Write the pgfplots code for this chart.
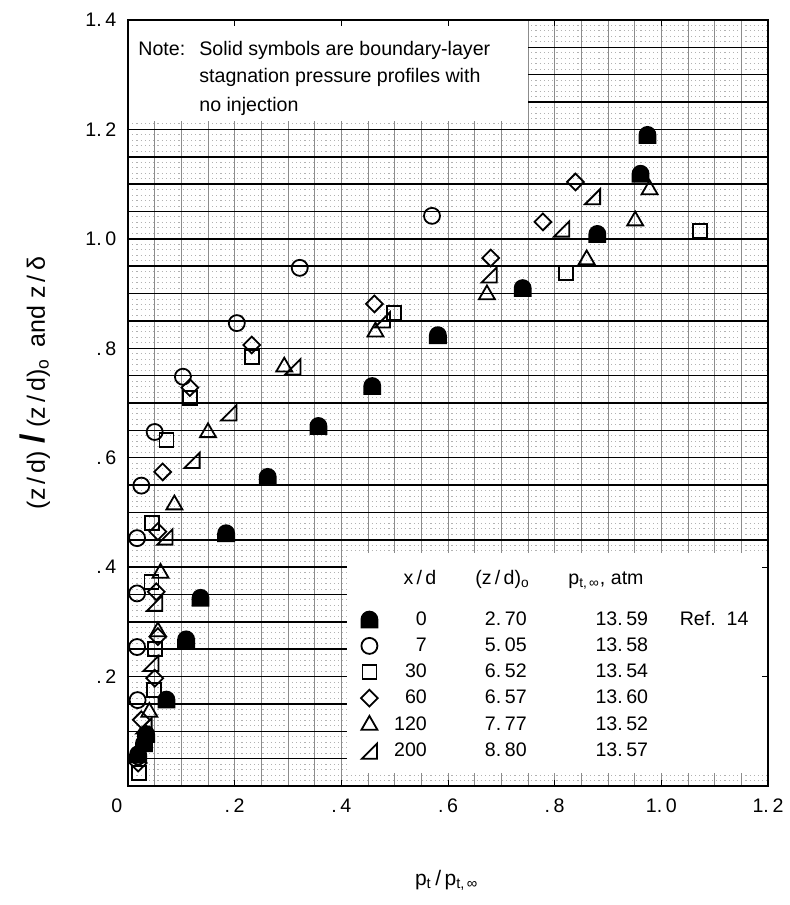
\documentclass[border=0pt]{standalone}
\usepackage{fontspec}
\setmainfont{Liberation Sans}
\usepackage{pgfplots}
\pgfplotsset{compat=1.18}

\pgfdeclareplotmark{tomb}{%
  \pgfpathmoveto{\pgfqpoint{-\pgfplotmarksize}{-\pgfplotmarksize}}%
  \pgfpathlineto{\pgfqpoint{-\pgfplotmarksize}{0pt}}%
  \pgfpatharc{180}{0}{\pgfplotmarksize}%
  \pgfpathlineto{\pgfqpoint{\pgfplotmarksize}{-\pgfplotmarksize}}%
  \pgfpathclose
  \pgfusepathqfillstroke}
\pgfdeclareplotmark{rtri}{%
  \pgfpathmoveto{\pgfqpoint{-\pgfplotmarksize}{-\pgfplotmarksize}}%
  \pgfpathlineto{\pgfqpoint{\pgfplotmarksize}{-\pgfplotmarksize}}%
  \pgfpathlineto{\pgfqpoint{\pgfplotmarksize}{\pgfplotmarksize}}%
  \pgfpathclose
  \pgfusepathqstroke}
\pgfdeclareplotmark{dia}{%
  \pgfpathmoveto{\pgfqpoint{0pt}{\pgfplotmarksize}}%
  \pgfpathlineto{\pgfqpoint{\pgfplotmarksize}{0pt}}%
  \pgfpathlineto{\pgfqpoint{0pt}{-\pgfplotmarksize}}%
  \pgfpathlineto{\pgfqpoint{-\pgfplotmarksize}{0pt}}%
  \pgfpathclose
  \pgfusepathqstroke}

\newcommand\CR[2]{\makebox[0pt][l]{\hspace*{#1}\makebox[0pt][r]{#2}}}
\newcommand\CC[2]{\makebox[0pt][l]{\hspace*{#1}\makebox[0pt][c]{#2}}}
\newcommand\CL[2]{\makebox[0pt][l]{\hspace*{#1}#2}}
\newcommand\row[4]{\CR{24.5pt}{#1}\CC{64pt}{#2}\CC{122pt}{#3}\CL{151pt}{#4}\hspace*{185pt}}
\newcommand\dg{\hspace{1.8pt}}

\pgfplotstableread{
x y
0.974 1.190
0.961 1.119
0.880 1.009
0.740 0.910
0.581 0.824
0.458 0.731
0.357 0.658
0.262 0.565
0.184 0.462
0.136 0.344
0.109 0.268
0.072 0.158
0.034 0.095
0.030 0.078
0.019 0.058
}\sZero
\pgfplotstableread{
x y
0.570 1.042
0.322 0.947
0.204 0.846
0.103 0.748
0.050 0.647
0.025 0.549
0.017 0.453
0.017 0.352
0.017 0.254
0.018 0.157
0.019 0.054
}\sSeven
\pgfplotstableread{
x y
1.073 1.015
0.821 0.938
0.499 0.865
0.232 0.784
0.116 0.709
0.072 0.633
0.045 0.480
0.044 0.373
0.050 0.251
0.049 0.176
0.020 0.024
}\sThirty
\pgfplotstableread{
x y
0.839 1.104
0.778 1.031
0.680 0.965
0.462 0.881
0.232 0.806
0.116 0.728
0.065 0.574
0.056 0.465
0.053 0.355
0.056 0.273
0.050 0.197
0.025 0.121
0.019 0.042
}\sSixty
\pgfplotstableread{
x y
0.978 1.090
0.951 1.033
0.860 0.962
0.673 0.898
0.464 0.830
0.293 0.766
0.150 0.646
0.087 0.514
0.061 0.389
0.056 0.282
0.040 0.135
}\sOneTwenty
\pgfplotstableread{
x y
0.871 1.077
0.813 1.018
0.677 0.934
0.477 0.852
0.309 0.766
0.189 0.682
0.120 0.595
0.069 0.455
0.050 0.334
0.043 0.224
0.030 0.110
}\sTwoHundred

\begin{document}
\begin{tikzpicture}
\path[use as bounding box] (-64pt,-59.5pt) rectangle (330.5pt,393pt);
\begin{axis}[
  scale only axis, width=320pt, height=383pt,
  xmin=0, xmax=1.2, ymin=0, ymax=1.4,
  axis on top,
  font=\fontsize{9.8}{11.4}\selectfont,
  axis line style={line width=0.9pt},
  tick align=inside, major tick length=3pt,
  tick style={line width=0.5pt, black},
  xtick={0,0.2,0.4,0.6,0.8,1.0,1.2},
  xticklabels={\llap{0\hspace{2.8pt}},.\dg2,.\dg4,.\dg6,.\dg8,1.\dg0,1.\dg2},
  ytick={0.2,0.4,0.6,0.8,1.0,1.2,1.4},
  yticklabels={.\dg2,.\dg4,.\dg6,.\dg8,1.\dg0,1.\dg2,1.\dg4},
  xticklabel style={yshift=-2.8pt},
  yticklabel style={xshift=-2.3pt},
  xlabel={\fontsize{10.5}{12}\selectfont p\textsubscript{t}\,/\,p\textsubscript{t,\,∞}},
  xlabel style={at={(axis description cs:0.498,-0.123)}, anchor=center},
  ylabel={\fontsize{12.5}{14}\selectfont(z\,/\,d)\;{\fontsize{17}{17}\selectfont\bfseries/}\;(z\,/\,d)\textsubscript{o}\, and z\,/\,δ},
  ylabel style={at={(axis description cs:-0.145,0.526)}, anchor=center},
  legend cell align=left,
  legend style={at={(0.3641,0.2285)}, anchor=north west, draw=none, fill=none,
    inner sep=0pt, outer sep=0pt, row sep=4.7pt, column sep=0pt,
    nodes={inner sep=0pt, outer sep=0pt}},
  every axis plot/.append style={only marks, black, line width=0.9pt},
]
% grid paper
\pgfplotsinvokeforeach{1,...,139}{\draw[gray!60, line width=0.5pt, dash pattern=on 0.6pt off 1.5pt] (axis cs:0,{#1*0.01}) -- (axis cs:1.2,{#1*0.01});}
\pgfplotsinvokeforeach{1,...,23}{\draw[black!45, line width=0.4pt] (axis cs:{#1*0.05},0) -- (axis cs:{#1*0.05},1.4);}
\pgfplotsinvokeforeach{1,...,27}{\draw[black, line width=0.75pt] (axis cs:0,{#1*0.05}) -- (axis cs:1.2,{#1*0.05});}
\fill[white] (axis cs:0,1.215) rectangle (axis cs:0.75,1.4);
\fill[white] (axis cs:0.41,0.024) rectangle (axis cs:1.2,0.426);
\begin{scope}[every node/.style={inner sep=0pt, font=\fontsize{9.8}{12}\selectfont}]
\node[anchor=base west] at (rel axis cs:0.0156,0.9543) {\makebox[30.5pt][l]{Note:}Solid symbols are boundary-layer};
\node[anchor=base west] at (rel axis cs:0.0156,0.9178) {\hspace*{30.5pt}stagnation pressure profiles with};
\node[anchor=base west] at (rel axis cs:0.0156,0.8812) {\hspace*{30.5pt}no injection};
\end{scope}
\begin{scope}[every node/.style={inner sep=0pt}]
\node[anchor=base] at (rel axis cs:0.4563,0.2637) {x\,/\,d};
\node[anchor=base west] at (rel axis cs:0.5422,0.2637) {(z\,/\,d)\textsubscript{o}};
\node[anchor=base west] at (rel axis cs:0.6875,0.2637) {p\textsubscript{t,\,∞}, atm};
\end{scope}

\addplot[mark=tomb, mark size=4pt, mark options={fill=black}] table {\sZero};
\addlegendentry{\row{0}{2.\dg70}{13.\dg59}{Ref.\ \ 14}}
\addplot[mark=o, mark size=4pt] table {\sSeven};
\addlegendentry{\row{7}{5.\dg05}{13.\dg58}{}}
\addplot[mark=square, mark size=3.5pt] table {\sThirty};
\addlegendentry{\row{30}{6.\dg52}{13.\dg54}{}}
\addplot[mark=dia, mark size=4.2pt] table {\sSixty};
\addlegendentry{\row{60}{6.\dg57}{13.\dg60}{}}
\addplot[mark=triangle, mark size=4.6pt] table {\sOneTwenty};
\addlegendentry{\row{120}{7.\dg77}{13.\dg52}{}}
\addplot[mark=rtri, mark size=3.8pt] table {\sTwoHundred};
\addlegendentry{\row{200}{8.\dg80}{13.\dg57}{}}
\end{axis}
\end{tikzpicture}
\end{document}
